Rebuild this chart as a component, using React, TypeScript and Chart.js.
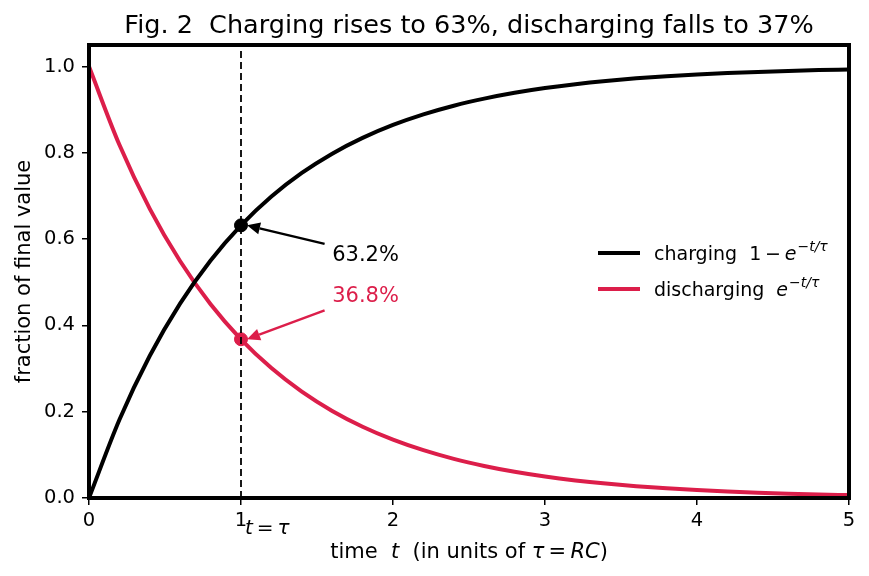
import React, { useEffect, useRef } from "react";
import { Chart, registerables } from "chart.js";
Chart.register(...registerables);

const TITLE = "Fig. 2  Charging rises to 63%, discharging falls to 37%";
const timeValues = [0, 0.2, 0.4, 0.6, 0.8, 1.0, 1.2, 1.4, 1.6, 1.8, 2.0, 2.2, 2.4, 2.6, 2.8, 3.0, 3.2, 3.4, 3.6, 3.8, 4.0, 4.2, 4.4, 4.6, 4.8, 5.0];
const chargingValues = [0, 0.1813, 0.3297, 0.4512, 0.5507, 0.6321, 0.6988, 0.7534, 0.7981, 0.8347, 0.8647, 0.8892, 0.9093, 0.9257, 0.9392, 0.9502, 0.9592, 0.9666, 0.9727, 0.9776, 0.9817, 0.985, 0.9877, 0.9899, 0.9918, 0.9933];
const dischargingValues = [1, 0.8187, 0.6703, 0.5488, 0.4493, 0.3679, 0.3012, 0.2466, 0.2019, 0.1653, 0.1353, 0.1108, 0.0907, 0.0743, 0.0608, 0.0498, 0.0408, 0.0334, 0.0273, 0.0224, 0.0183, 0.015, 0.0123, 0.0101, 0.0082, 0.0067];
const markerTime = 1;
const chargeAtTau = 0.632;
const dischargeAtTau = 0.368;
const chargeLabel = "63.2%";
const dischargeLabel = "36.8%";
const chargeTextPos = [1.6, 0.562];
const dischargeTextPos = [1.6, 0.467];
const chargeArrowTail = [1.55, 0.589];
const dischargeArrowTail = [1.55, 0.435];
const xTicks = [0, 1, 2, 3, 4, 5];
const yTicks = [0, 0.2, 0.4, 0.6, 0.8, 1.0];

const BLACK = "#000000";
const RED = "#DC1E4A";
const FONT = "DejaVu Sans";
const TICK = 19.5;

function drawArrow(ctx: CanvasRenderingContext2D, x0: number, y0: number, x1: number, y1: number, color: string) {
  const ang = Math.atan2(y1 - y0, x1 - x0);
  const head = 13;
  const hw = 6;
  const bx = x1 - head * Math.cos(ang);
  const by = y1 - head * Math.sin(ang);
  ctx.save();
  ctx.strokeStyle = color;
  ctx.fillStyle = color;
  ctx.lineWidth = 2.5;
  ctx.beginPath();
  ctx.moveTo(x0, y0);
  ctx.lineTo(bx, by);
  ctx.stroke();
  ctx.beginPath();
  ctx.moveTo(x1, y1);
  ctx.lineTo(bx + hw * Math.sin(ang), by - hw * Math.cos(ang));
  ctx.lineTo(bx - hw * Math.sin(ang), by + hw * Math.cos(ang));
  ctx.closePath();
  ctx.fill();
  ctx.restore();
}

function drawSegments(ctx: CanvasRenderingContext2D, segs: [string, string][], x: number, y: number, align: "left" | "center") {
  let total = 0;
  for (const [t, f] of segs) {
    ctx.font = f;
    total += ctx.measureText(t).width;
  }
  let cx = align === "center" ? x - total / 2 : x;
  ctx.textAlign = "left";
  for (const [t, f] of segs) {
    ctx.font = f;
    ctx.fillText(t, cx, y);
    cx += ctx.measureText(t).width;
  }
}

const overlayPlugin = {
  id: "overlay",
  afterDraw(chart: any) {
    const ctx: CanvasRenderingContext2D = chart.ctx;
    const { left, right, top, bottom } = chart.chartArea;
    const xs = chart.scales.x;
    const ys = chart.scales.y;
    ctx.save();
    // border
    ctx.strokeStyle = BLACK;
    ctx.lineWidth = 4;
    ctx.strokeRect(left, top, right - left, bottom - top);
    // title
    ctx.fillStyle = BLACK;
    ctx.textBaseline = "alphabetic";
    ctx.font = `25.5px ${FONT}`;
    ctx.textAlign = "center";
    ctx.fillText(TITLE, (left + right) / 2, 33);
    // x label
    const n = `21px ${FONT}`;
    const it = `italic 21px ${FONT}`;
    drawSegments(ctx, [["time  ", n], ["t", it], ["  (in units of ", n], ["τ", it], ["\u2009=\u2009", n], ["RC", it], [")", n]], (left + right) / 2, 558, "center");
    // y label
    ctx.save();
    ctx.translate(30, (top + bottom) / 2);
    ctx.rotate(-Math.PI / 2);
    ctx.font = n;
    ctx.textAlign = "center";
    ctx.fillText("fraction of final value", 0, 0);
    ctx.restore();
    // t = tau label
    ctx.fillStyle = BLACK;
    drawSegments(ctx, [["t", `italic 20px ${FONT}`], ["\u2009=\u2009", `20px ${FONT}`], ["τ", `italic 20px ${FONT}`]], xs.getPixelForValue(markerTime) + 4, 534, "left");
    // annotations
    const px = (v: number[]) => [xs.getPixelForValue(v[0]), ys.getPixelForValue(v[1])];
    const tipOffset = 6;
    const cTip = [xs.getPixelForValue(markerTime) + tipOffset, ys.getPixelForValue(chargeAtTau)];
    const dTip = [xs.getPixelForValue(markerTime) + tipOffset, ys.getPixelForValue(dischargeAtTau)];
    const cTail = px(chargeArrowTail);
    const dTail = px(dischargeArrowTail);
    drawArrow(ctx, cTail[0], cTail[1], cTip[0], cTip[1], BLACK);
    drawArrow(ctx, dTail[0], dTail[1], dTip[0], dTip[1], RED);
    ctx.font = `21px ${FONT}`;
    ctx.textAlign = "left";
    ctx.textBaseline = "middle";
    const ct = px(chargeTextPos);
    ctx.fillStyle = BLACK;
    ctx.fillText(chargeLabel, ct[0], ct[1]);
    const dt = px(dischargeTextPos);
    ctx.fillStyle = RED;
    ctx.fillText(dischargeLabel, dt[0], dt[1]);
    // legend
    const lx = right - 251;
    const rows: [string, string, string][] = [
      [BLACK, "charging  1\u2009−\u2009", "−t/τ"],
      [RED, "discharging  ", "−t/τ"],
    ];
    rows.forEach(([col, txt, sup], i) => {
      const y = top + 208 + i * 36;
      ctx.strokeStyle = col;
      ctx.lineWidth = 4;
      ctx.beginPath();
      ctx.moveTo(lx, y);
      ctx.lineTo(lx + 42, y);
      ctx.stroke();
      ctx.fillStyle = BLACK;
      ctx.textBaseline = "alphabetic";
      ctx.textAlign = "left";
      let x = lx + 56;
      ctx.font = `19px ${FONT}`;
      ctx.fillText(txt, x, y + 7);
      x += ctx.measureText(txt).width;
      ctx.font = `italic 19px ${FONT}`;
      ctx.fillText("e", x, y + 7);
      x += ctx.measureText("e").width + 1;
      ctx.font = `italic 14px ${FONT}`;
      ctx.fillText(sup, x, y - 2);
    });
    ctx.restore();
  },
};

export default function App() {
  const ref = useRef<HTMLCanvasElement | null>(null);
  useEffect(() => {
    document.body.style.margin = "0";
    const canvas = ref.current!;
    const pts = (vals: number[]) => timeValues.map((t, i) => ({ x: t, y: vals[i] }));
    const chart = new Chart(canvas, {
      type: "line",
      data: {
        datasets: [
          {
            data: [{ x: markerTime, y: 0 }, { x: markerTime, y: 1.05 }],
            borderColor: BLACK,
            borderWidth: 1.8,
            borderDash: [7, 4],
            pointRadius: 0,
          },
          {
            data: pts(chargingValues),
            borderColor: BLACK,
            borderWidth: 4,
            pointRadius: 0,
            cubicInterpolationMode: "monotone",
          },
          {
            data: pts(dischargingValues),
            borderColor: RED,
            borderWidth: 4,
            pointRadius: 0,
            cubicInterpolationMode: "monotone",
          },
          {
            data: [{ x: markerTime, y: chargeAtTau }],
            showLine: false,
            pointRadius: 6.5,
            pointBackgroundColor: BLACK,
            pointBorderColor: BLACK,
          },
          {
            data: [{ x: markerTime, y: dischargeAtTau }],
            showLine: false,
            pointRadius: 6.5,
            pointBackgroundColor: RED,
            pointBorderColor: RED,
          },
        ] as any,
      },
      options: {
        animation: false,
        responsive: false,
        devicePixelRatio: 1,
        layout: { padding: { top: 45, right: 20, left: 0, bottom: 0 } },
        plugins: { legend: { display: false }, tooltip: { enabled: false }, title: { display: false } },
        scales: {
          x: {
            type: "linear",
            min: 0,
            max: 5,
            afterBuildTicks: (s: any) => { s.ticks = xTicks.map((v) => ({ value: v })); },
            afterFit: (s: any) => { s.height = 78; },
            grid: { drawOnChartArea: false, drawTicks: true, tickLength: 7, color: BLACK, lineWidth: 1.5 },
            border: { display: false },
            ticks: { color: BLACK, font: { family: FONT, size: TICK }, padding: 4, maxRotation: 0, callback: (v: any) => String(v) },
          },
          y: {
            type: "linear",
            min: 0,
            max: 1.05,
            afterBuildTicks: (s: any) => { s.ticks = yTicks.map((v) => ({ value: v })); },
            afterFit: (s: any) => { s.width = 89; },
            grid: { drawOnChartArea: false, drawTicks: true, tickLength: 7, color: BLACK, lineWidth: 1.5 },
            border: { display: false },
            ticks: { color: BLACK, font: { family: FONT, size: TICK }, padding: 7, callback: (v: any) => Number(v).toFixed(1) },
          },
        },
      } as any,
      plugins: [overlayPlugin],
    });
    return () => chart.destroy();
  }, []);
  return (
    <div style={{ width: 869, height: 576 }}>
      <canvas ref={ref} width={869} height={576} style={{ display: "block" }} />
    </div>
  );
}
